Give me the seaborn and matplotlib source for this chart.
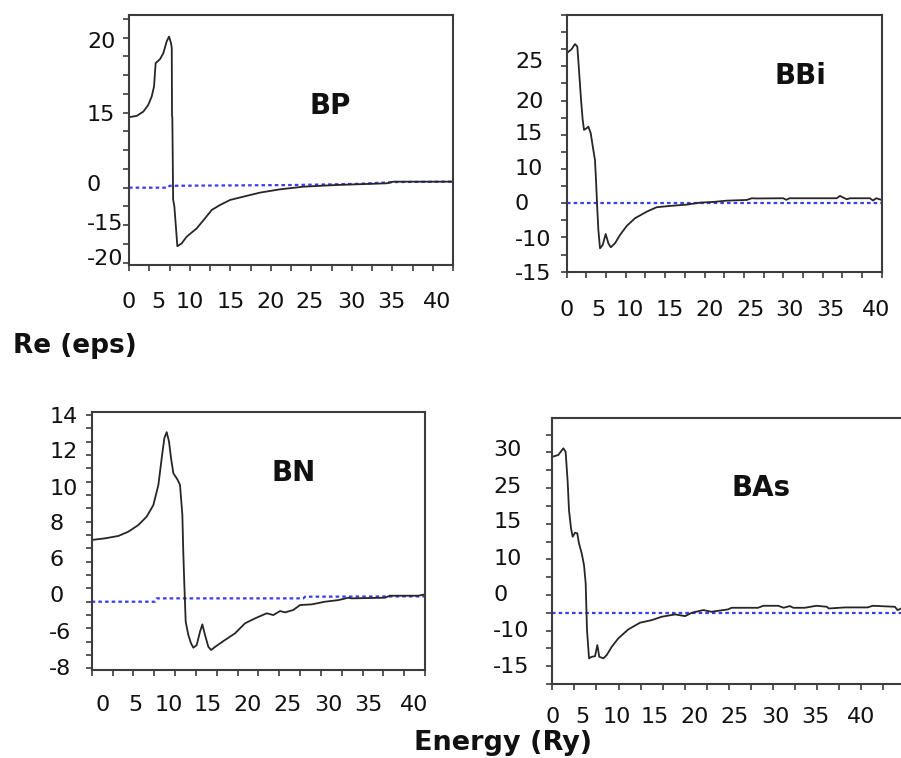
import matplotlib
matplotlib.use("Agg")
import matplotlib.pyplot as plt
import pandas as pd
import seaborn as sns
from matplotlib.ticker import FixedLocator, FixedFormatter, MultipleLocator

sns.set_theme(style="white")
plt.rcParams["font.family"] = ["DejaVu Sans"]

# ---------------- data: real part of the dielectric function ----------------
# BP
bp_energy = [0.0, 0.95, 1.77, 2.38, 2.80, 3.09, 3.29, 3.83, 4.24, 4.65, 4.94, 5.19,
             5.28, 5.31, 5.35, 5.45, 5.60, 5.97, 6.50, 7.12, 8.36, 9.38, 10.21,
             11.23, 12.47, 14.11, 16.17, 18.64, 21.52, 25.64, 31.81, 32.63, 40.0]
bp_eps = [9.39, 9.56, 10.13, 11.03, 12.13, 13.47, 16.59, 17.12, 17.92, 19.47, 20.13,
          19.25, 18.59, 9.5, 9.4, -1.6, -2.5, -7.8, -7.42, -6.53, -5.42, -4.09,
          -2.97, -2.31, -1.64, -1.20, -0.66, -0.22, 0.13, 0.36, 0.58, 0.80, 0.80]
bp_ref_energy = [0.0, 4.8, 5.0, 20.0, 28.0, 33.0, 40.0]
bp_ref_eps = [0.0, 0.0, 0.25, 0.35, 0.5, 0.75, 0.8]

# BBi
bbi_energy = [0.0, 0.63, 1.05, 1.35, 1.56, 1.82, 2.03, 2.20, 2.54, 2.75, 3.05, 3.38,
              3.59, 3.72, 3.89, 4.02, 4.23, 4.57, 4.95, 5.29, 5.59, 6.13, 6.77,
              7.62, 8.67, 10.16, 11.43, 13.12, 15.24, 16.93, 18.62, 20.32, 22.86,
              23.5, 24.1, 27.5, 27.9, 28.3, 34.28, 34.7, 35.56, 36.0, 38.5, 38.9,
              39.3, 40.0]
bbi_eps = [21.93, 22.51, 23.25, 22.9, 19.49, 15.1, 12.18, 10.72, 10.97, 11.2, 10.23,
           7.79, 6.33, 3.4, -0.98, -3.9, -6.58, -6.1, -4.49, -5.85, -6.43, -5.85,
           -4.63, -3.32, -2.19, -1.23, -0.58, -0.39, -0.2, 0.09, 0.19, 0.38, 0.48,
           0.73, 0.7, 0.73, 0.5, 0.73, 0.73, 1.07, 0.58, 0.73, 0.73, 0.4, 0.73, 0.48]
bbi_ref_energy = [0.0, 40.0]
bbi_ref_eps = [0.0, 0.0]

# BN
bn_energy = [0.0, 1.6, 3.2, 4.4, 5.6, 6.6, 7.4, 8.0, 8.4, 8.72, 9.0, 9.28, 9.52, 9.8,
             10.32, 10.6, 10.88, 11.0, 11.12, 11.28, 11.6, 11.92, 12.2, 12.6, 13.0,
             13.28, 13.6, 14.0, 14.32, 15.0, 16.0, 17.2, 18.4, 19.6, 21.0, 21.8,
             22.6, 23.2, 24.2, 25.0, 26.4, 28.0, 29.6, 30.8, 31.2, 35.2, 35.8,
             39.2, 40.0]
bn_eps = [4.63, 4.75, 4.93, 5.25, 5.75, 6.38, 7.25, 8.75, 10.76, 12.26, 12.71, 12.0,
          10.76, 9.63, 9.13, 8.75, 6.5, 3.5, 1.25, -1.5, -2.5, -3.12, -3.45, -3.25,
          -2.25, -1.7, -2.5, -3.38, -3.62, -3.3, -2.87, -2.37, -1.62, -1.25, -0.87,
          -1.0, -0.7, -0.8, -0.62, -0.25, -0.2, 0.0, 0.12, 0.3, 0.25, 0.3, 0.45,
          0.45, 0.55]
bn_ref_energy = [0.0, 7.6, 7.8, 25.4, 25.6, 40.0]
bn_ref_eps = [0.0, 0.0, 0.25, 0.25, 0.375, 0.4]

# BAs
bas_energy = [0.0, 0.68, 1.25, 1.51, 1.74, 1.89, 2.12, 2.31, 2.57, 2.83, 3.02, 3.33,
              3.59, 3.78, 3.93, 4.16, 4.46, 4.84, 5.1, 5.32, 5.78, 6.16, 6.73, 7.47,
              8.6, 9.93, 11.26, 12.39, 13.9, 15.03, 15.8, 17.1, 18.0, 19.9, 20.3,
              23.3, 23.9, 25.6, 26.2, 26.9, 27.3, 28.6, 29.9, 31.1, 31.3, 33.1,
              35.7, 36.3, 38.8, 39.1, 39.5]
bas_eps = [21.9, 22.15, 23.09, 22.6, 18.4, 14.4, 11.85, 10.67, 11.24, 11.15, 9.75,
           8.34, 6.7, 4.13, -2.43, -6.4, -6.18, -6.1, -4.54, -6.18, -6.4, -5.94,
           -4.78, -3.6, -2.34, -1.4, -1.03, -0.56, -0.23, -0.47, 0.0, 0.38, 0.14,
           0.47, 0.7, 0.7, 0.98, 0.98, 0.7, 0.94, 0.7, 0.7, 0.98, 0.84, 0.6, 0.75,
           0.75, 0.98, 0.84, 0.37, 0.6]
bas_ref_energy = [0.0, 40.0]
bas_ref_eps = [0.0, 0.0]

# tick labels printed beside each panel
bp_ytick_labels = ["20", "15", "0", "-15", "-20"]
bbi_ytick_labels = ["25", "20", "15", "10", "0", "-10", "-15"]
bn_ytick_labels = ["14", "12", "10", "8", "6", "0", "-6", "-8"]
bas_ytick_labels = ["30", "25", "15", "10", "0", "-10", "-15"]
energy_tick_labels = ["0", "5", "10", "15", "20", "25", "30", "35", "40"]

# ---------------- layout ----------------
W, H = 901, 758
fig = plt.figure(figsize=(W / 100, H / 100), dpi=100)
fig.patch.set_facecolor("white")

panels = [
    dict(name="BP", e=bp_energy, v=bp_eps, re=bp_ref_energy, rv=bp_ref_eps,
         box=(129, 15, 453, 265), ylim=(-10.3, 23.0), yminor=2.5,
         ylab=bp_ytick_labels, ypos=[19.7, 9.96, 0.63, -4.57, -9.25],
         xpos=[0.0, 3.58, 7.53, 12.6, 17.53, 22.35, 27.4, 32.35, 38.0],
         ypad=42, xpad=27, title_xy=(330, 106)),
    dict(name="BBi", e=bbi_energy, v=bbi_eps, re=bbi_ref_energy, rv=bbi_ref_eps,
         box=(566.7, 15, 881.7, 271.7), ylim=(-10.0, 27.5), yminor=2.5,
         ylab=bbi_ytick_labels, ypos=[20.95, 15.08, 10.42, 5.3, 0.19, -5.07, -10.0],
         xpos=[0.0, 4.0, 8.0, 13.1, 18.2, 23.3, 28.3, 33.5, 39.3],
         ypad=51.7, xpad=28, title_xy=(800, 76.5)),
    dict(name="BN", e=bn_energy, v=bn_eps, re=bn_ref_energy, rv=bn_ref_eps,
         box=(91.7, 412.3, 425, 670), ylim=(-5.12, 14.2), yminor=1.0,
         ylab=bn_ytick_labels, ypos=[14.0, 11.38, 8.63, 5.95, 3.26, 0.6, -2.18, -4.88],
         xpos=[1.36, 5.2, 9.28, 13.96, 18.76, 23.56, 28.36, 33.16, 38.68],
         ypad=42.4, xpad=25, title_xy=(294, 473)),
    dict(name="BAs", e=bas_energy, v=bas_eps, re=bas_ref_energy, rv=bas_ref_eps,
         box=(552.3, 418.3, 905.5, 684), ylim=(-10.0, 27.3), yminor=2.5,
         ylab=bas_ytick_labels, ypos=[23.09, 17.94, 13.02, 7.87, 2.81, -2.29, -7.35],
         xpos=[0.0, 3.44, 7.29, 11.63, 16.16, 20.69, 25.22, 29.75, 35.0],
         ypad=59, xpad=23, title_xy=(761, 487.5)),
]

frame_color = "#3c3c3c"
curve_color = "#262626"
ref_color = "#3b3bf0"
tick_font = 16

for p in panels:
    x0, y0, x1, y1 = p["box"]
    ax = fig.add_axes([x0 / W, 1 - y1 / H, (x1 - x0) / W, (y1 - y0) / H])
    ax.set_facecolor("white")

    ref = pd.DataFrame({"energy": p["re"], "eps": p["rv"]})
    sns.lineplot(data=ref, x="energy", y="eps", ax=ax, color=ref_color,
                 linewidth=1.6, linestyle=(0, (1.6, 1.4)), sort=False,
                 estimator=None)
    cur = pd.DataFrame({"energy": p["e"], "eps": p["v"]})
    sns.lineplot(data=cur, x="energy", y="eps", ax=ax, color=curve_color,
                 linewidth=1.3, sort=False, estimator=None)

    ax.set_xlim(0, 40)
    ax.set_ylim(*p["ylim"])
    ax.set_xlabel("")
    ax.set_ylabel("")

    for s in ax.spines.values():
        s.set_visible(True)
        s.set_color(frame_color)
        s.set_linewidth(1.5)

    ax.xaxis.remove_overlapping_locs = False
    ax.yaxis.remove_overlapping_locs = False
    ax.xaxis.set_major_locator(FixedLocator(p["xpos"]))
    ax.xaxis.set_major_formatter(FixedFormatter(energy_tick_labels))
    ax.yaxis.set_major_locator(FixedLocator(p["ypos"]))
    ax.yaxis.set_major_formatter(FixedFormatter(p["ylab"]))
    ax.xaxis.set_minor_locator(MultipleLocator(2.5))
    ax.yaxis.set_minor_locator(MultipleLocator(p["yminor"]))

    ax.tick_params(which="major", length=0, labelsize=tick_font, labelcolor="#111111")
    ax.tick_params(which="minor", direction="out", length=4, width=1.2,
                   color=frame_color, bottom=True, left=True)
    ax.tick_params(axis="y", which="major", pad=p["ypad"] * 0.72)
    ax.tick_params(axis="x", which="major", pad=p["xpad"] * 0.72)
    for lab in ax.get_yticklabels():
        lab.set_horizontalalignment("left")

    tx, ty = p["title_xy"]
    fig.text(tx / W, 1 - ty / H, p["name"], ha="center", va="center",
             fontsize=20, fontweight="bold", color="#111111")

fig.text(13 / W, 1 - 346 / H, "Re (eps)", ha="left", va="center",
         fontsize=19, fontweight="bold", color="#111111")
fig.text(503.5 / W, 1 - 743.5 / H, "Energy (Ry)", ha="center", va="center",
         fontsize=19.5, fontweight="bold", color="#111111")

fig.savefig("out.png", dpi=100, facecolor="white")
